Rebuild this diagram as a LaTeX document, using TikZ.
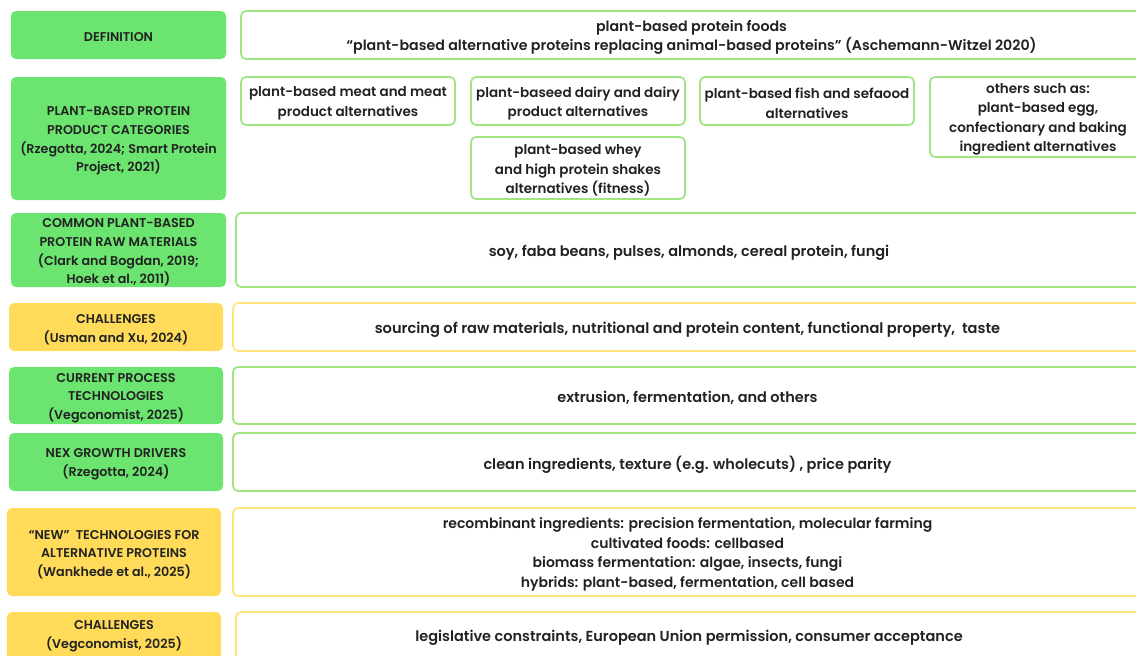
\documentclass[tikz,border=0pt]{standalone}
\usepackage{fontspec}
\setmainfont{Poppins}[BoldFont={* SemiBold}]
\definecolor{boxgreen}{RGB}{108,229,112}
\definecolor{boxyellow}{RGB}{255,219,89}
\definecolor{linegreen}{RGB}{160,228,132}
\definecolor{lineyellow}{RGB}{255,228,125}
\definecolor{ink}{RGB}{34,34,34}
% \mkbox{name}{style}{x1}{y1}{x2}{y2}{text}: a box by its corners, and its text
\newcommand\mkbox[7]{%
  \node[#2, minimum width={(#5-#3)*1pt}, minimum height={(#6-#4)*1pt}]
    (#1) at ({(#3+#5)/2},{(#4+#6)/2}) {};
  \node[#2, draw=none, fill=none, yshift=-2.5pt] (#1t) at (#1.center) {#7};}
\begin{document}
\begin{tikzpicture}[x=1pt,y=-1pt,
  fs/.style={font=\bfseries\fontsize{#1}{19.5}\selectfont},
  lab/.style={rounded corners=5pt, align=center, inner sep=0pt, text=ink,
    font=\bfseries\fontsize{12.7}{18.6}\selectfont},
  gfill/.style={lab, fill=boxgreen},
  yfill/.style={lab, fill=boxyellow},
  cell/.style={rounded corners=5pt, draw, line width=1.8pt, align=center,
    inner sep=0pt, text=ink, fs=14.5},
  gcell/.style={cell, draw=linegreen},
  ycell/.style={cell, draw=lineyellow},
  small/.style={fs=13.5}]
\useasboundingbox (0,0) rectangle (1136,656);
\clip (0,0) rectangle (1136,656);

% left column: topics
\mkbox{def}{gfill}{11}{11}{226}{59}{DEFINITION}
\mkbox{cat}{gfill}{11}{77}{226}{200}{PLANT-BASED PROTEIN\\PRODUCT CATEGORIES\\(Rzegotta, 2024; Smart Protein\\Project, 2021)}
\mkbox{raw}{gfill}{11}{213}{226}{287}{COMMON PLANT-BASED\\PROTEIN RAW MATERIALS\\(Clark and Bogdan, 2019;\\Hoek et al., 2011)}
\mkbox{chA}{yfill}{9}{303}{223}{351}{CHALLENGES\\(Usman and Xu, 2024)}
\mkbox{proc}{gfill}{9}{367}{223}{424}{CURRENT PROCESS\\TECHNOLOGIES\\(Vegconomist, 2025)}
\mkbox{grow}{gfill}{9}{433}{223}{491}{NEX GROWTH DRIVERS\\(Rzegotta, 2024)}
\mkbox{newt}{yfill}{7}{508}{221}{596}{“NEW”\ \ TECHNOLOGIES FOR\\ALTERNATIVE PROTEINS\\(Wankhede et al., 2025)}
\mkbox{chB}{yfill}{7}{612}{221}{668}{}
\node[lab, anchor=center] (chBtxt) at (114,636) {CHALLENGES\\(Vegconomist, 2025)};

% right column: contents
\mkbox{defT}{gcell,fs=14.2}{241}{11}{1142}{59}{plant-based protein foods\\“plant-based alternative proteins replacing animal-based proteins” (Aschemann-Witzel 2020)}
\mkbox{meat}{gcell,small}{241}{77}{455}{125}{plant-based meat and meat\\product alternatives}
\mkbox{dairy}{gcell,small}{471}{77}{685}{125}{plant-baseed dairy and dairy\\product alternatives}
\mkbox{whey}{gcell,small}{471}{137}{685}{199}{plant-based whey\\and high protein shakes\\alternatives (fitness)}
\mkbox{fish}{gcell,small}{700}{77}{914}{125}{plant-based fish and sefaood\\alternatives}
\mkbox{other}{gcell,small}{930}{77}{1146}{157}{others such as:\\plant-based egg,\\confectionary and baking\\ingredient alternatives}
\mkbox{rawT}{gcell}{236}{213}{1142}{287}{soy, faba beans, pulses, almonds, cereal protein, fungi}
\mkbox{chAT}{ycell,fs=14.6}{233}{303}{1142}{351}{sourcing of raw materials, nutritional and protein content, functional property,\ \ taste}
\mkbox{procT}{gcell}{233}{367}{1142}{424}{extrusion, fermentation, and others}
\mkbox{growT}{gcell}{233}{433}{1142}{491}{clean ingredients, texture (e.g. wholecuts) , price parity}
\mkbox{newtT}{ycell,fs=14}{233}{508}{1142}{596}{recombinant ingredients: precision fermentation, molecular farming\\cultivated foods: cellbased\\biomass fermentation: algae, insects, fungi\\hybrids: plant-based, fermentation, cell based}
\mkbox{chBT}{ycell}{236}{612}{1142}{668}{}
\node[cell, draw=none, anchor=center] (chBTtxt) at (689,638) {legislative constraints, European Union permission, consumer acceptance};
\end{tikzpicture}
\end{document}
